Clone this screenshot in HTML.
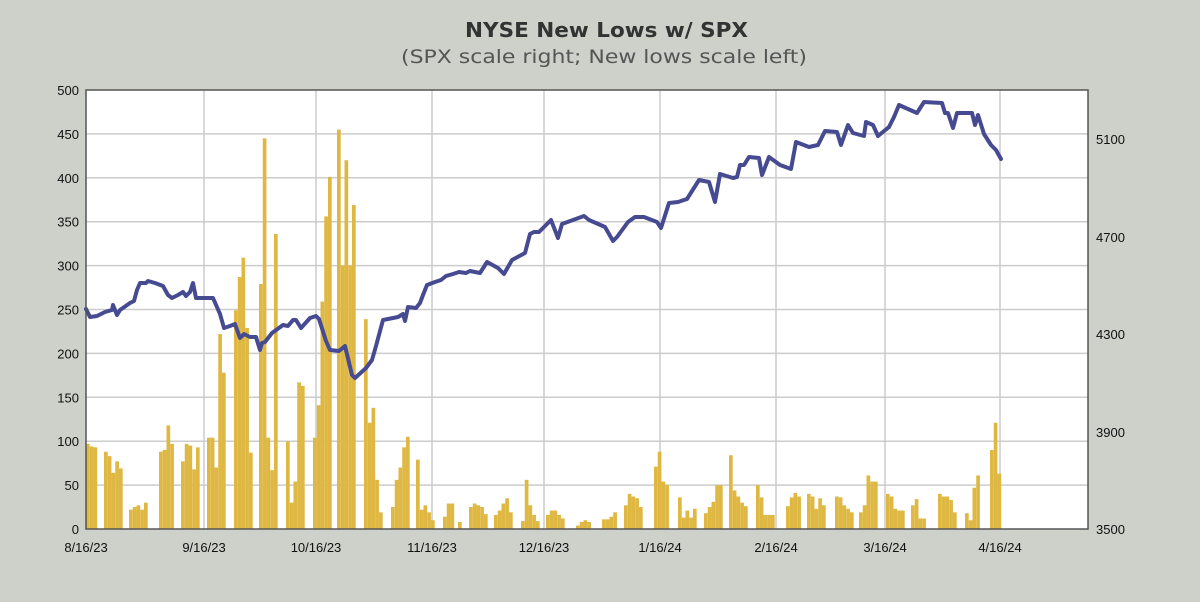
<!DOCTYPE html>
<html><head><meta charset="utf-8"><style>
html,body{margin:0;padding:0;background:#cdd1c9;}
svg{display:block;font-family:"Liberation Sans",sans-serif;}
</style></head><body>
<svg id="s" width="1200" height="602" xmlns="http://www.w3.org/2000/svg">
<rect width="1200" height="602" fill="#cdd1c9"/>
<text x="465" y="37" font-size="20" font-weight="bold" fill="#333" font-family="DejaVu Sans, sans-serif" textLength="283" lengthAdjust="spacingAndGlyphs">NYSE New Lows w/ SPX</text>
<text x="401" y="63" font-size="19" fill="#555" font-family="DejaVu Sans, sans-serif" textLength="406" lengthAdjust="spacingAndGlyphs">(SPX scale right; New lows scale left)</text>
<rect x="86" y="90" width="1002" height="439" fill="#fff"/>
<g id="grid" stroke="#cccccc" stroke-width="1.5"></g>
<g id="bars" fill="#dfb844"></g>
<polyline id="spx" fill="none" stroke="#464b91" stroke-width="4" stroke-linejoin="round" stroke-linecap="round"/>
<rect x="86" y="90" width="1002" height="439" fill="none" stroke="#555" stroke-width="1.5"/>
<g id="lab" font-size="13" fill="#111"></g>
</svg>
<script>
const NS="http://www.w3.org/2000/svg";
function el(p,t,a,txt){const e=document.createElementNS(NS,t);for(const k in a)e.setAttribute(k,a[k]);if(txt!==undefined)e.textContent=txt;p.appendChild(e);return e;}
const grid=document.getElementById('grid'),lab=document.getElementById('lab'),bars=document.getElementById('bars');
const k=439/500;
for(let v=0;v<=500;v+=50){const y=529-v*k;if(v>0&&v<500)el(grid,'line',{x1:86,x2:1088,y1:y,y2:y});el(lab,'text',{x:79,y:y+5,'text-anchor':'end'},v);}
const vx=[[86,'8/16/23'],[204,'9/16/23'],[316,'10/16/23'],[432,'11/16/23'],[544,'12/16/23'],[660,'1/16/24'],[776,'2/16/24'],[885,'3/16/24'],[1000,'4/16/24']];
vx.forEach(([x,t],i)=>{if(i>0)el(grid,'line',{x1:x,x2:x,y1:90,y2:529});el(lab,'text',{x:x,y:552,'text-anchor':'middle'},t);});
[[5100,139],[4700,237],[4300,334],[3900,432],[3500,529]].forEach(([v,y])=>el(lab,'text',{x:1096,y:y+5},v));
const G=[[86,[97,94,93]],[104,[88,83,64,77,69]],[129,[22,25,27,22,30]],[159,[88,90,118,97]],[181,[77,97,95,68,93]],
[207,[104,104,70,222,178]],[234,[249,287,309,229,87]],[259,[279,445,104,67,336]],[286,[100,30,54,167,163]],
[313,[104,141,259,356,401]],[337,[455,300,420,300,369]],[364,[239,121,138,56,19]],[391,[25,56,70,93,105]],
[416,[79,22,27,19,10]],[443,[14,29,29,0,8]],[469,[25,29,27,25,17]],[494,[16,21,29,35,19]],[521,[9,56,27,16,9]],
[546,[16,21,21,16,12]],[576,[4,8,10,8]],[602,[11,11,14,19]],[624,[27,40,37,35,25]],[654,[71,88,54,50]],
[678,[36,13,21,13,23]],[704,[18,25,31,50,50]],[729,[84,44,37,30,26]],[756,[50,36,16,16,16]],[786,[26,36,41,37]],
[807,[40,37,23,35,27]],[835,[37,36,27,23,19]],[859,[19,27,61,54,54]],[886,[40,37,23,21,21]],[911,[27,34,12,12]],
[938,[40,37,37,33,19]],[965,[18,10,47,61]],[990,[90,121,63]]];
G.forEach(([x0,vs])=>vs.forEach((v,i)=>{if(!v)return;const x=x0+i*3.746;el(bars,'rect',{x:x,y:529-v*k,width:3.7,height:v*k});}));
const P=[[86,309],[90,317],[97,316],[105,312],[112,310],[113,305],[115,310],[117,315],[120,310],[130,303],[134,301],[137,290],[140,283],[146,283],[148,281],[155,283],[163,286],[168,295],[172,298],[178,295],[183,292],[186,296],[190,292],[193,283],[196,298],[206,298],[213,298],[220,314],[224,328],[230,326],[235,324],[240,338],[244,334],[250,337],[256,337],[260,350],[262,343],[265,342],[272,333],[283,325],[288,326],[293,320],[296,320],[301,328],[310,318],[316,316],[319,319],[326,341],[330,350],[339,351],[345,346],[352,375],[355,378],[366,368],[372,360],[376,346],[383,320],[393,318],[398,317],[403,314],[405,321],[408,307],[416,308],[420,303],[423,295],[427,285],[435,282],[441,280],[446,276],[453,274],[459,272],[466,273],[470,271],[480,273],[487,262],[498,268],[504,274],[512,260],[525,253],[530,234],[534,232],[539,232],[551,220],[558,238],[562,224],[584,216],[589,220],[605,227],[613,241],[617,237],[628,222],[635,217],[644,217],[657,222],[661,228],[669,203],[678,202],[687,199],[699,180],[709,182],[715,202],[720,174],[733,178],[737,177],[740,165],[744,165],[749,157],[759,158],[762,175],[769,157],[780,165],[791,169],[796,142],[809,147],[818,145],[825,131],[837,132],[841,145],[848,125],[853,133],[864,136],[866,122],[873,125],[878,136],[889,127],[894,117],[899,105],[917,113],[924,102],[942,103],[945,113],[948,113],[953,128],[957,113],[972,113],[975,125],[978,115],[984,134],[991,145],[996,150],[1001,159]];
document.getElementById('spx').setAttribute('points',P.map(p=>p.join(',')).join(' '));
</script>
</body></html>
